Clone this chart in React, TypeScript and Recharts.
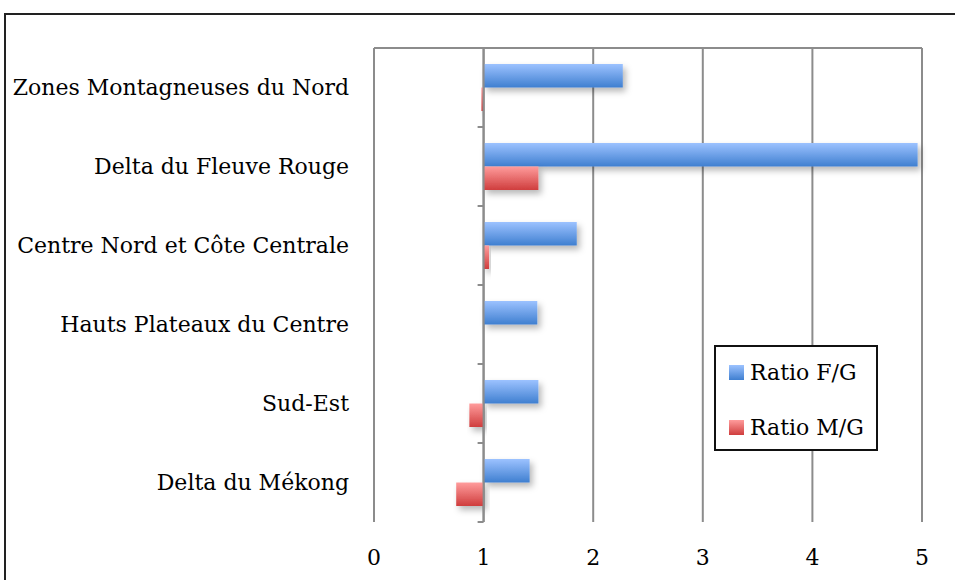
import React from "react";
import {
  BarChart,
  Bar,
  XAxis,
  YAxis,
  CartesianGrid,
  ReferenceLine,
} from "recharts";

const FONT = "'DejaVu Serif', serif";
const BASE = 1;

const REGIONS = [
  "Zones Montagneuses du Nord",
  "Delta du Fleuve Rouge",
  "Centre Nord et Côte Centrale",
  "Hauts Plateaux du Centre",
  "Sud-Est",
  "Delta du Mékong",
];
const RATIO_FG = [2.27, 4.96, 1.85, 1.49, 1.5, 1.42];
const RATIO_MG = [0.98, 1.5, 1.05, 0.995, 0.87, 0.75];
const X_TICKS = [0, 1, 2, 3, 4, 5];

const span = (v: number) => [Math.min(BASE, v), Math.max(BASE, v)];

const data = REGIONS.map((name, i) => ({
  name,
  fg: span(RATIO_FG[i]),
  mg: span(RATIO_MG[i]),
}));

const SERIES = [
  { key: "fg", label: "Ratio F/G", grad: "url(#gradBlue)", css: "linear-gradient(#9cc2ff, #3f7fd0)" },
  { key: "mg", label: "Ratio M/G", grad: "url(#gradRed)", css: "linear-gradient(#ff9c9c, #cf3d3d)" },
];

// category axis drawn at x = 1, with tick marks on band boundaries
function CategoryAxis(props: any) {
  const { x1, y1, y2 } = props;
  const top = Math.min(y1, y2);
  const h = Math.abs(y2 - y1);
  const step = h / REGIONS.length;
  const marks = [...REGIONS.map((_, i) => top + step * i), top + h];
  return (
    <g stroke="#8c8c8c" strokeWidth={2}>
      <line x1={x1} x2={x1} y1={top} y2={top + h} />
      {marks.map((y, i) => (
        <line key={i} x1={x1 - 6} x2={x1} y1={y} y2={y} />
      ))}
    </g>
  );
}

function LegendBox() {
  return (
    <div
      style={{
        position: "absolute",
        left: 714,
        top: 345,
        width: 164,
        height: 106,
        border: "2px solid #111",
        background: "#fff",
        boxSizing: "border-box",
        fontFamily: FONT,
        fontSize: 22,
        color: "#000",
        padding: "11px 0 0 13px",
      }}
    >
      {SERIES.map((s, i) => (
        <div key={s.key} style={{ display: "flex", alignItems: "center", height: 28, marginBottom: i === 0 ? 27 : 0 }}>
          <span style={{ width: 15, height: 15, marginRight: 6, background: s.css }} />
          {s.label}
        </div>
      ))}
    </div>
  );
}

export default function App() {
  return (
    <div style={{ position: "absolute", left: 0, top: 0, width: 955, height: 580, background: "#fff", overflow: "hidden" }}>
      <div
        style={{
          position: "absolute",
          left: 4,
          top: 13,
          width: 960,
          height: 600,
          borderTop: "2px solid #222",
          borderLeft: "2px solid #222",
        }}
      />
      <BarChart
        width={955}
        height={580}
        data={data}
        layout="vertical"
        margin={{ top: 42, right: 33, bottom: 0, left: 0 }}
        barSize={23.5}
        barGap={0}
        style={{ position: "absolute", left: 0, top: 0 }}
      >
        <defs>
          <linearGradient id="gradBlue" x1="0" y1="0" x2="0" y2="1">
            <stop offset="0%" stopColor="#9cc2ff" />
            <stop offset="100%" stopColor="#3f7fd0" />
          </linearGradient>
          <linearGradient id="gradRed" x1="0" y1="0" x2="0" y2="1">
            <stop offset="0%" stopColor="#ff9c9c" />
            <stop offset="100%" stopColor="#cf3d3d" />
          </linearGradient>
          <filter id="barShadow" x="-10%" y="-30%" width="130%" height="180%">
            <feDropShadow dx="3" dy="4" stdDeviation="3" floodColor="#000" floodOpacity="0.28" />
          </filter>
        </defs>
        <CartesianGrid horizontal={false} stroke="#8c8c8c" strokeWidth={2} />
        <XAxis
          xAxisId="top"
          orientation="top"
          type="number"
          domain={[0, 5]}
          ticks={X_TICKS}
          height={6}
          tickSize={6}
          tickFormatter={() => ""}
          axisLine={{ stroke: "#8c8c8c", strokeWidth: 2 }}
          tickLine={{ stroke: "#8c8c8c", strokeWidth: 2 }}
        />
        <XAxis
          type="number"
          domain={[0, 5]}
          ticks={X_TICKS}
          height={58}
          axisLine={false}
          tickLine={false}
          tickSize={0}
          tickMargin={27}
          tick={{ fontFamily: FONT, fontSize: 22, fill: "#000" }}
        />
        <YAxis
          type="category"
          dataKey="name"
          width={374}
          axisLine={false}
          tickLine={false}
          tickSize={0}
          tickMargin={25}
          interval={0}
          tick={{ fontFamily: FONT, fontSize: 22, fill: "#000" }}
        />
        {SERIES.map((s) => (
          <Bar
            key={s.key}
            dataKey={s.key}
            name={s.label}
            fill={s.grad}
            filter="url(#barShadow)"
            isAnimationActive={false}
          />
        ))}
        <ReferenceLine x={BASE} shape={<CategoryAxis />} />
      </BarChart>
      <LegendBox />
    </div>
  );
}
